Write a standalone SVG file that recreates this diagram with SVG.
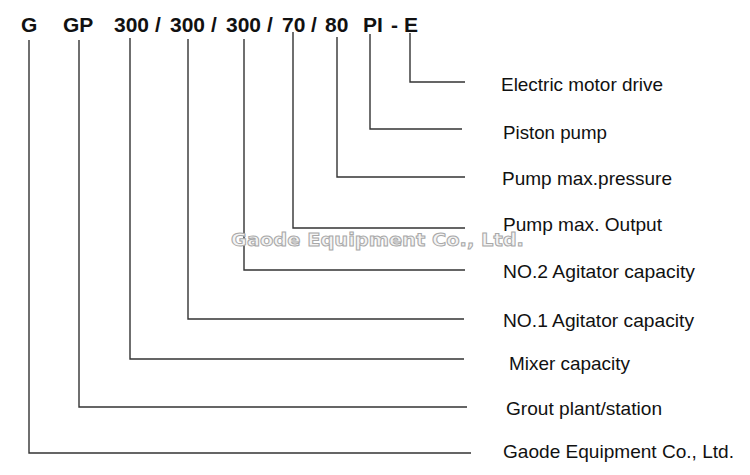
<svg xmlns="http://www.w3.org/2000/svg" width="750" height="475" viewBox="0 0 750 475">
<style>
.hd{font-family:"Liberation Sans",Arial,sans-serif;font-weight:bold;font-size:21px;fill:#111}
.lb{font-family:"Liberation Sans",Arial,sans-serif;font-size:18.5px;fill:#111}
.ln{stroke:#333;stroke-width:1.4;fill:none}
.wm{font-family:"DejaVu Sans","Liberation Sans",sans-serif;font-weight:bold;font-size:18.5px;fill:#f4f4f4;stroke:#a8a8a8;stroke-width:1}
</style>
<rect width="750" height="475" fill="#fff"/>
<g id="code">
<text class="hd" x="21" y="32">G</text>
<text class="hd" x="63" y="32">GP</text>
<text class="hd" x="114" y="32">300</text>
<text class="hd" x="155" y="32">/</text>
<text class="hd" x="170" y="32">300</text>
<text class="hd" x="211" y="32">/</text>
<text class="hd" x="226" y="32">300</text>
<text class="hd" x="267" y="32">/</text>
<text class="hd" x="282" y="32">70</text>
<text class="hd" x="311" y="32">/</text>
<text class="hd" x="325" y="32">80</text>
<text class="hd" x="363" y="32">PI</text>
<text class="hd" x="391" y="32">-</text>
<text class="hd" x="404" y="32">E</text>
</g>
<g id="connectors">
<path class="ln" d="M410 33 V82 H465"/>
<path class="ln" d="M370 34 V129 H462"/>
<path class="ln" d="M337 37 V177 H465"/>
<path class="ln" d="M293 32 V228 H465"/>
<path class="ln" d="M244 39 V270 H465"/>
<path class="ln" d="M188 39 V319 H464"/>
<path class="ln" d="M130 38 V359 H464"/>
<path class="ln" d="M79 40 V407 H467"/>
<path class="ln" d="M29 40 V453 H471"/>
</g>
<g id="label-e"><text class="lb" x="501" y="91" textLength="162" lengthAdjust="spacingAndGlyphs">Electric motor drive</text></g>
<g id="label-pi"><text class="lb" x="503" y="139" textLength="104" lengthAdjust="spacingAndGlyphs">Piston pump</text></g>
<g id="label-80"><text class="lb" x="502" y="185" textLength="170" lengthAdjust="spacingAndGlyphs">Pump max.pressure</text></g>
<g id="label-70"><text class="lb" x="503" y="231" textLength="159" lengthAdjust="spacingAndGlyphs">Pump max. Output</text></g>
<g id="label-no2"><text class="lb" x="503" y="278" textLength="192" lengthAdjust="spacingAndGlyphs">NO.2 Agitator capacity</text></g>
<g id="label-no1"><text class="lb" x="503" y="327" textLength="191" lengthAdjust="spacingAndGlyphs">NO.1 Agitator capacity</text></g>
<g id="label-mixer"><text class="lb" x="509" y="370" textLength="121" lengthAdjust="spacingAndGlyphs">Mixer capacity</text></g>
<g id="label-gp"><text class="lb" x="506" y="415" textLength="156" lengthAdjust="spacingAndGlyphs">Grout plant/station</text></g>
<g id="label-g"><text class="lb" x="503" y="458" textLength="231" lengthAdjust="spacingAndGlyphs">Gaode Equipment Co., Ltd.</text></g>
<g id="watermark"><text class="wm" x="231" y="246" textLength="293" lengthAdjust="spacingAndGlyphs">Gaode Equipment Co., Ltd.</text></g>
</svg>
